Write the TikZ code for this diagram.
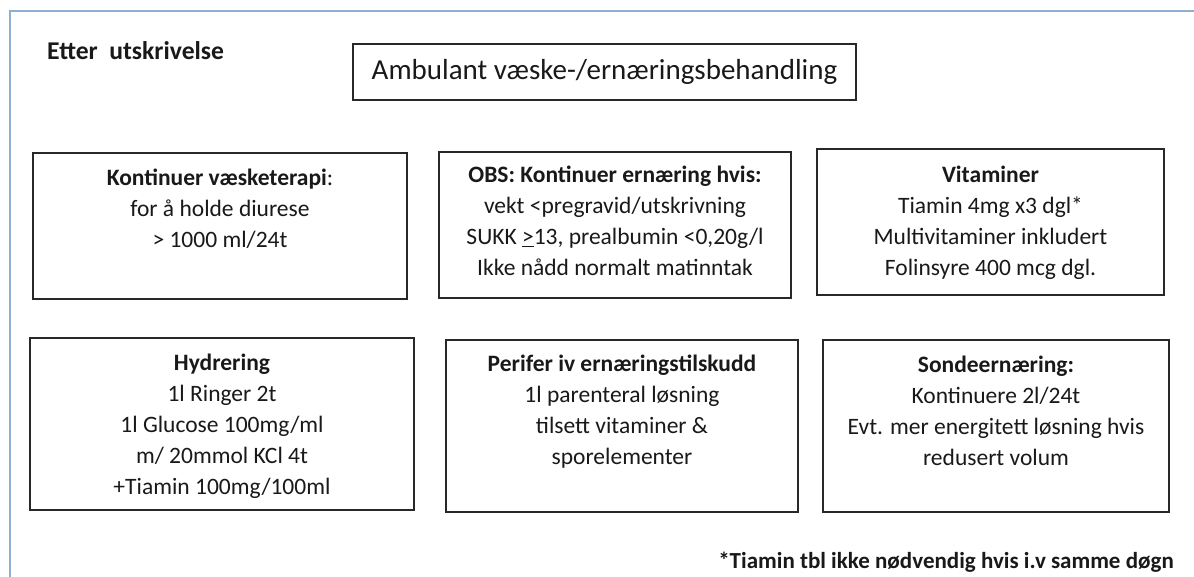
\documentclass[tikz,border=0pt]{standalone}
\usepackage{fontspec}
\setmainfont{Carlito}
\definecolor{framecol}{RGB}{140,175,210}
\definecolor{txt}{RGB}{25,25,25}
\definecolor{boxline}{RGB}{40,40,40}
\tikzset{
  box/.style={draw=boxline, line width=1.5bp, rectangle, inner sep=0pt},
  boxtext/.style={anchor=north, align=center, inner sep=0pt, text=txt,
    font=\fontsize{23.5bp}{31bp}\selectfont},
}
\begin{document}
\begin{tikzpicture}[x=1bp,y=-1bp]
\useasboundingbox (0,0) rectangle (1194,577);
\fill[white] (0,0) rectangle (1194,577);
\coordinate (fa) at (10,577);
\coordinate (fb) at (10,11);
\coordinate (fc) at (1194,11);
\draw[framecol, line width=2bp] (fa) -- (fb) -- (fc);

\node[anchor=west, inner sep=0pt, text=txt, font=\fontsize{25.6bp}{28bp}\selectfont\bfseries] (etter) at (47,51) {Etter\ \ utskrivelse};

\node[box, minimum width=503bp, minimum height=56bp] (title) at (604.5,72) {};
\node[inner sep=0pt, text=txt, font=\fontsize{29bp}{32bp}\selectfont] (titletext) at (title.center) {Ambulant væske-/ernæringsbehandling};

% row 1
\node[box, minimum width=374bp, minimum height=146bp] (b1) at (220,226) {};
\node[boxtext] (t1) at ([yshift=-17bp]b1.north) {\textbf{Kontinuer væsketerapi}:\\for å holde diurese\\> 1000 ml/24t};

\node[box, minimum width=352bp, minimum height=146bp] (b2) at (615,225) {};
\node[boxtext] (t2) at ([yshift=-15bp]b2.north) {\textbf{OBS: Kontinuer ernæring hvis:}\\vekt <pregravid/utskrivning\\SUKK \underline{>}13, prealbumin <0,20g/l\\Ikke nådd normalt matinntak};

\node[box, minimum width=347bp, minimum height=146bp] (b3) at (990.5,222) {};
\node[boxtext] (t3) at ([yshift=-18bp]b3.north) {\textbf{Vitaminer}\\Tiamin 4mg x3 dgl*\\Multivitaminer inkludert\\Folinsyre 400 mcg dgl.};

% row 2
\node[box, minimum width=384bp, minimum height=172bp] (b4) at (222,424) {};
\node[boxtext] (t4) at ([yshift=-17bp]b4.north) {\textbf{Hydrering}\\1l Ringer 2t\\1l Glucose 100mg/ml\\m/ 20mmol KCl 4t\\+Tiamin 100mg/100ml};

\node[box, minimum width=352bp, minimum height=172bp] (b5) at (622,426) {};
\node[boxtext] (t5) at ([yshift=-16bp]b5.north) {\textbf{Perifer iv ernæringstilskudd}\\1l parenteral løsning\\tilsett vitaminer \&\\sporelementer};

\node[box, minimum width=346bp, minimum height=172bp] (b6) at (996,426) {};
\node[boxtext] (t6) at ([yshift=-17bp]b6.north) {\textbf{Sondeernæring:}\\Kontinuere 2l/24t\\Evt. mer energitett løsning hvis\\redusert volum};

\node[anchor=east, inner sep=0pt, text=txt, font=\fontsize{23bp}{26bp}\selectfont\bfseries] (foot) at (1174,562) {*Tiamin tbl ikke nødvendig hvis i.v samme døgn};
\end{tikzpicture}
\end{document}
